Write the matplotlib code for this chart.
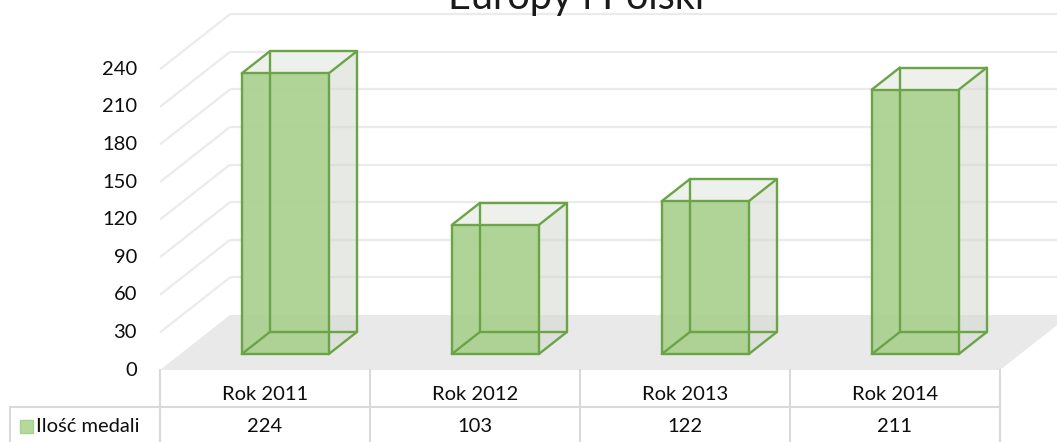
import matplotlib
matplotlib.use("Agg")
import matplotlib.pyplot as plt
from matplotlib.patches import Polygon, Rectangle

# ---- data ----
title = "Europy i Polski"
categories = ["Rok 2011", "Rok 2012", "Rok 2013", "Rok 2014"]
values = [224, 103, 122, 211]
series_name = "Ilość medali"
y_ticks = [0, 30, 60, 90, 120, 150, 180, 210, 240]

# ---- styling / projection (pixel space) ----
W, H = 1057, 442
X0, Y0 = 160.0, 370.0       # front-plane origin (value 0, left)
BAND = 210.0                # width of one category on the front plane
SCALE = 37.6 / 30.0         # px per value unit
DX, DY = 70.0, 55.0         # full depth offset
BAR_W = 87.0 / BAND         # bar width in category units
D_FRONT, D_BACK = 0.29, 0.69

GREEN_EDGE = "#6BA347"
GREEN_FACE = "#A9D18E"
GRID = "#EBEBEB"
FLOOR = "#E9E9E9"
TABLE_LINE = "#D9D9D9"
TXT = "#0D0D0D"
FONT = ["Lato", "DejaVu Sans"]


def P(xc, v, d):
    return (X0 + xc * BAND + d * DX, Y0 - v * SCALE - d * DY)


fig = plt.figure(figsize=(W / 100, H / 100), dpi=100)
ax = fig.add_axes([0, 0, 1, 1])
ax.set_xlim(0, W)
ax.set_ylim(H, 0)
ax.axis("off")

n = len(categories)

# floor
floor = [P(0, 0, 0), P(n, 0, 0), P(n, 0, 1), P(0, 0, 1)]
ax.add_patch(Polygon(floor, closed=True, facecolor=FLOOR, edgecolor="none", zorder=1))

# back-wall gridlines and left-wall diagonals
for v in y_ticks[1:]:
    xa, ya = P(0, v, 1)
    xb, yb = P(n, v, 1)
    ax.plot([xa, xb], [ya, yb], color=GRID, lw=1.6, zorder=1, solid_capstyle="butt")
    xf, yf = P(0, v, 0)
    ax.plot([xf, xa], [yf, ya], color=GRID, lw=1.6, zorder=1, solid_capstyle="butt")

# tick labels
for v in y_ticks:
    x, y = P(0, v, 0)
    ax.text(137, y, str(v), ha="right", va="center", fontsize=14.5, color=TXT, family=FONT)

# bars
for i, val in enumerate(values):
    xl = i + 0.5 - BAR_W / 2
    xr = i + 0.5 + BAR_W / 2
    fbl, fbr = P(xl, 0, D_FRONT), P(xr, 0, D_FRONT)
    ftl, ftr = P(xl, val, D_FRONT), P(xr, val, D_FRONT)
    bbl, bbr = P(xl, 0, D_BACK), P(xr, 0, D_BACK)
    btl, btr = P(xl, val, D_BACK), P(xr, val, D_BACK)
    # top face
    ax.add_patch(Polygon([ftl, ftr, btr, btl], closed=True, facecolor="#EEF0EB",
                         edgecolor="none", alpha=0.95, zorder=3))
    # right side face
    ax.add_patch(Polygon([fbr, ftr, btr, bbr], closed=True, facecolor="#D3D7CE",
                         edgecolor="none", alpha=0.55, zorder=3))
    # front face
    ax.add_patch(Polygon([fbl, fbr, ftr, ftl], closed=True, facecolor=GREEN_FACE,
                         edgecolor="none", alpha=0.92, zorder=4))
    edges = [(fbl, fbr), (fbr, ftr), (ftr, ftl), (ftl, fbl),
             (bbl, bbr), (bbr, btr), (btr, btl), (btl, bbl),
             (fbl, bbl), (fbr, bbr), (ftl, btl), (ftr, btr)]
    for a, b in edges:
        ax.plot([a[0], b[0]], [a[1], b[1]], color=GREEN_EDGE, lw=1.7, zorder=5,
                solid_capstyle="round", solid_joinstyle="round")

# data table
row1_top, row2_top, row_bottom = Y0, 407.0, H + 5
xs = [P(k, 0, 0)[0] for k in range(n + 1)]
for x in xs:
    ax.plot([x, x], [row1_top, row_bottom], color=TABLE_LINE, lw=1.5, zorder=2)
ax.plot([10, xs[-1]], [row2_top, row2_top], color=TABLE_LINE, lw=1.5, zorder=2)
ax.plot([10, 10], [row2_top, row_bottom], color=TABLE_LINE, lw=1.5, zorder=2)

for i, (c, val) in enumerate(zip(categories, values)):
    cx = (xs[i] + xs[i + 1]) / 2
    ax.text(cx, 395, c, ha="center", va="center", fontsize=14.5, color=TXT, family=FONT)
    ax.text(cx, 427, str(val), ha="center", va="center", fontsize=14.5, color=TXT, family=FONT)

ax.add_patch(Rectangle((20, 420), 13, 13, facecolor="#B4D99C", edgecolor=GREEN_FACE,
                       lw=1.0, zorder=3))
ax.text(36, 427, series_name, ha="left", va="center", fontsize=14.5, color=TXT, family=FONT)

# title (mostly cut off at the top, as in the reference)
ax.text(576, 9, title, ha="center", va="baseline", fontsize=28.5, color="#1A1A1A",
        family=FONT)

fig.savefig("out.png", dpi=100)
